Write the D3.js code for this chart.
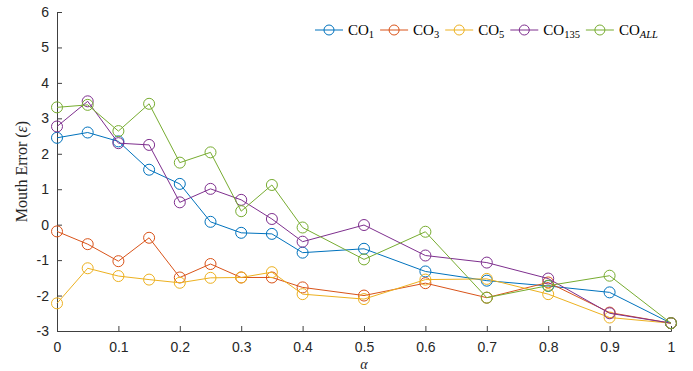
<!DOCTYPE html>
<html><head><meta charset="utf-8">
<script src="https://cdn.jsdelivr.net/npm/d3@7"></script>
<style>body{margin:0;background:#fff}svg{display:block}</style>
</head><body>
<svg id="c" width="693" height="371"></svg>
<script>
const alphas = [0, 0.05, 0.1, 0.15, 0.2, 0.25, 0.3, 0.35, 0.4, 0.5, 0.6, 0.7, 0.8, 0.9, 1];
const co1   = [2.45, 2.6, 2.35, 1.55, 1.15, 0.08, -0.23, -0.26, -0.79, -0.68, -1.32, -1.58, -1.73, -1.91, -2.78];
const co3   = [-0.19, -0.55, -1.03, -0.37, -1.49, -1.11, -1.49, -1.49, -1.77, -2.0, -1.65, -2.06, -1.63, -2.48, -2.78];
const co5   = [-2.22, -1.23, -1.45, -1.55, -1.64, -1.5, -1.49, -1.34, -1.96, -2.1, -1.55, -1.53, -1.96, -2.62, -2.78];
const co135 = [2.77, 3.48, 2.3, 2.25, 0.63, 1.01, 0.7, 0.16, -0.48, -0.01, -0.87, -1.07, -1.52, -2.5, -2.78];
const coAll = [3.31, 3.38, 2.64, 3.41, 1.75, 2.04, 0.38, 1.12, -0.08, -0.98, -0.2, -2.06, -1.72, -1.44, -2.78];
const seriesNames = ["1", "3", "5", "135", "ALL"];
const seriesColors = ["#0072BD", "#D95319", "#EDB120", "#7E2F8E", "#77AC30"];
const xTicks = [0, 0.1, 0.2, 0.3, 0.4, 0.5, 0.6, 0.7, 0.8, 0.9, 1];
const yTicks = [-3, -2, -1, 0, 1, 2, 3, 4, 5, 6];

const series = [co1, co3, co5, co135, coAll];
const svg = d3.select("#c");
const L = 57, R = 671, T = 12, B = 331;
const x = d3.scaleLinear().domain([0, 1]).range([L, R]);
const y = d3.scaleLinear().domain([-3, 6]).range([B, T]);
const axisColor = "#404040";
const tickFont = "Liberation Sans, Arial, sans-serif";
const serif = "Liberation Serif, Times New Roman, serif";

const xAxis = svg.append("g").attr("transform", `translate(0,${B})`)
  .call(d3.axisBottom(x).tickValues(xTicks).tickSize(-5).tickPadding(10).tickFormat(d => String(d)));
const yAxis = svg.append("g").attr("transform", `translate(${L},0)`)
  .call(d3.axisLeft(y).tickValues(yTicks).tickSize(-5).tickPadding(8).tickFormat(d => String(d)));
[xAxis, yAxis].forEach(g => {
  g.select(".domain").attr("stroke", axisColor).attr("stroke-width", 1);
  g.selectAll(".tick line").attr("stroke", axisColor);
  g.selectAll(".tick text").attr("fill", "#262626").attr("font-family", tickFont).attr("font-size", 14);
});
xAxis.selectAll(".tick text").attr("dy", "0.75em");

const line = d3.line().x((d, i) => x(alphas[i])).y(d => y(d));
series.forEach((s, k) => {
  const g = svg.append("g");
  g.append("path").datum(s).attr("d", line).attr("fill", "none")
    .attr("stroke", seriesColors[k]).attr("stroke-width", 1);
  g.selectAll("circle").data(s).join("circle")
    .attr("cx", (d, i) => x(alphas[i])).attr("cy", d => y(d)).attr("r", 5.5)
    .attr("fill", "none").attr("stroke", seriesColors[k]).attr("stroke-width", 1);
});

// axis labels
svg.append("text").attr("x", x(0.5)).attr("y", 369).attr("text-anchor", "middle")
  .attr("font-family", serif).attr("font-style", "italic").attr("font-size", 14).attr("fill", "#262626").text("α");
const yl = svg.append("text").attr("transform", `translate(27,${(T + B) / 2}) rotate(-90)`)
  .attr("text-anchor", "middle").attr("font-family", serif).attr("font-size", 16).attr("fill", "#262626");
yl.append("tspan").text("Mouth Error (");
yl.append("tspan").attr("font-style", "italic").text("ε");
yl.append("tspan").text(")");

// legend
const leg = svg.append("g");
let lx = 315;
const ly = 30;
seriesNames.forEach((n, k) => {
  const g = leg.append("g");
  g.append("line").attr("x1", lx).attr("x2", lx + 28).attr("y1", ly).attr("y2", ly)
    .attr("stroke", seriesColors[k]).attr("stroke-width", 1);
  g.append("circle").attr("cx", lx + 14).attr("cy", ly).attr("r", 5)
    .attr("fill", "none").attr("stroke", seriesColors[k]);
  const t = g.append("text").attr("x", lx + 33).attr("y", ly + 5)
    .attr("font-family", serif).attr("font-size", 15).attr("fill", "#000");
  t.append("tspan").text("CO");
  const sub = t.append("tspan").attr("font-size", 10.5).attr("dy", 3).text(n);
  if (n === "ALL") sub.attr("font-style", "italic");
  lx = lx + 33 + t.node().getComputedTextLength() + 6;
});
</script>
</body></html>
